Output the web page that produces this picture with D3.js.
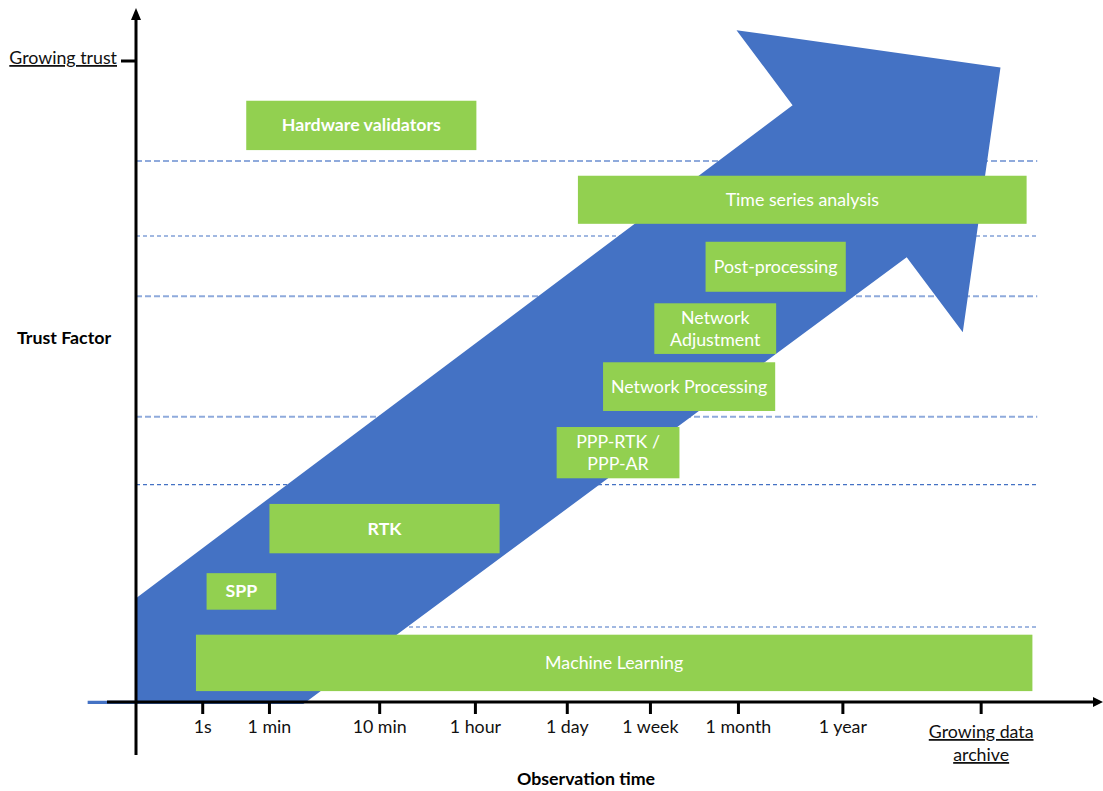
<!DOCTYPE html>
<html><head><meta charset="utf-8">
<script src="https://cdn.jsdelivr.net/npm/d3@7"></script>
<style>
html,body{margin:0;padding:0;background:#fff;}
svg{display:block;font-family:Lato,"Open Sans",sans-serif;}
</style></head>
<body><div id="chart"></div>
<script>
// ---- data ----
const tickLabels = ["1s","1 min","10 min","1 hour","1 day","1 week","1 month","1 year","Growing data archive"];
const tickValues = [6.9, 13.8, 25.2, 35.1, 44.6, 53.2, 62.3, 73.1, 87.4];

const methods   = ["Hardware validators","Time series analysis","Post-processing","Network Adjustment","Network Processing","PPP-RTK / PPP-AR","RTK","SPP","Machine Learning"];
const methodX0  = [11.4, 45.7, 58.9, 53.6, 48.3, 43.5, 13.8, 7.3, 6.2];
const methodX1  = [35.2, 92.1, 73.4, 66.2, 66.1, 56.2, 37.6, 14.5, 92.7];
const methodY0  = [86.1, 74.6, 64.0, 54.3, 45.4, 34.9, 23.2, 14.4, 1.7];
const methodY1  = [93.8, 82.1, 71.8, 62.2, 53.0, 42.9, 30.9, 20.1, 10.5];
const methodBold= [true, false, false, false, false, false, true, true, false];

const levels      = [84.4, 72.7, 63.3, 44.5, 33.9, 11.7];
const levelLight  = [true, false, true, true, false, false];

const arrowX = [0, 67.9, 62.1, 89.4, 85.5, 79.7, 17.3, -5.0, -5.0, 0];
const arrowY = [16.2, 93.1, 104.8, 99.0, 57.7, 69.4, -0.3, -0.3, 0.2, 0.2];

const trustTop = 100; // "Growing trust"

// ---- layout ----
const W = 1103, H = 791, FS = 17.8;
const x = d3.scaleLinear().domain([0, 100]).range([136, 1103]);
const y = d3.scaleLinear().domain([0, 100]).range([702, 61]);

const svg = d3.select("#chart").append("svg").attr("width", W).attr("height", H);

// dashed level lines (behind arrow)
svg.append("g").selectAll("line").data(levels).join("line")
  .attr("x1", x(0)).attr("x2", x(93.2))
  .attr("y1", d => y(d)).attr("y2", d => y(d))
  .attr("stroke", (d,i) => levelLight[i] ? "#8FAADC" : "#4472C4")
  .attr("stroke-width", (d,i) => levelLight[i] ? 2 : 1.2)
  .attr("stroke-dasharray", (d,i) => levelLight[i] ? "6,3" : "4,3");

// big arrow
const arrowPts = arrowX.map((v,i) => [x(v), y(arrowY[i])]);
svg.append("path")
  .attr("d", d3.line()(arrowPts) + "Z")
  .attr("fill", "#4472C4");

// method boxes
const boxes = methods.map((m,i) => ({name:m, x0:methodX0[i], x1:methodX1[i], y0:methodY0[i], y1:methodY1[i], bold:methodBold[i]}));
const bg = svg.append("g").selectAll("g").data(boxes).join("g");
bg.append("rect")
  .attr("x", d => x(d.x0)).attr("width", d => x(d.x1) - x(d.x0))
  .attr("y", d => y(d.y1)).attr("height", d => y(d.y0) - y(d.y1))
  .attr("fill", "#92D050");
bg.each(function(d){
  const g = d3.select(this);
  const cx = (x(d.x0)+x(d.x1))/2, cy = (y(d.y0)+y(d.y1))/2;
  let lines = [d.name];
  if (d.name === "Network Adjustment") lines = ["Network","Adjustment"];
  if (d.name === "PPP-RTK / PPP-AR") lines = ["PPP-RTK /","PPP-AR"];
  const lh = 22;
  const t = g.append("text").attr("text-anchor","middle").attr("fill","#fff")
    .attr("font-size", FS).attr("font-weight", d.bold ? "bold" : "normal");
  lines.forEach((l,k) => {
    t.append("tspan").attr("x", cx)
     .attr("y", cy + (k - (lines.length-1)/2)*lh + 6).text(l);
  });
});

// axes
const axG = svg.append("g");
axG.append("line").attr("x1", 107).attr("x2", W-6).attr("y1", y(0)).attr("y2", y(0))
  .attr("stroke","#000").attr("stroke-width",3);
axG.append("path").attr("d", `M${W},${y(0)} L${W-10},${y(0)-5} L${W-10},${y(0)+5}Z`).attr("fill","#000");
axG.append("line").attr("x1", x(0)).attr("x2", x(0)).attr("y1", 18).attr("y2", 755)
  .attr("stroke","#000").attr("stroke-width",3);
axG.append("path").attr("d", `M${x(0)},8 L${x(0)-5},20 L${x(0)+5},20Z`).attr("fill","#000");

// x ticks
const xt = svg.append("g").selectAll("g").data(tickValues).join("g")
  .attr("transform", d => `translate(${x(d)},0)`);
xt.append("line").attr("y1", y(0)).attr("y2", y(0)+12).attr("stroke","#000").attr("stroke-width",3);
xt.each(function(d,i){
  const g = d3.select(this);
  const lab = tickLabels[i];
  if (lab === "Growing data archive") {
    const t = g.append("text").attr("text-anchor","middle").attr("font-size",FS).attr("fill","#111")
      .attr("text-decoration","underline");
    t.append("tspan").attr("x",0).attr("y",738).text("Growing data");
    t.append("tspan").attr("x",0).attr("y",761).text("archive");
  } else {
    g.append("text").attr("text-anchor","middle").attr("font-size",FS).attr("fill","#111")
      .attr("y", 733).text(lab);
  }
});

// y tick "Growing trust"
svg.append("line").attr("x1", 121).attr("x2", x(0)).attr("y1", y(trustTop)).attr("y2", y(trustTop))
  .attr("stroke","#000").attr("stroke-width",3);
svg.append("text").attr("x", 117).attr("y", y(trustTop)+3).attr("text-anchor","end")
  .attr("font-size",FS).attr("fill","#111").attr("text-decoration","underline").text("Growing trust");

// axis titles
svg.append("text").attr("x", 64).attr("y", 344).attr("text-anchor","middle")
  .attr("font-size",FS).attr("font-weight","bold").attr("fill","#000").text("Trust Factor");
svg.append("text").attr("x", 586).attr("y", 785).attr("text-anchor","middle")
  .attr("font-size",FS).attr("font-weight","bold").attr("fill","#000").text("Observation time");
</script>
</body></html>
